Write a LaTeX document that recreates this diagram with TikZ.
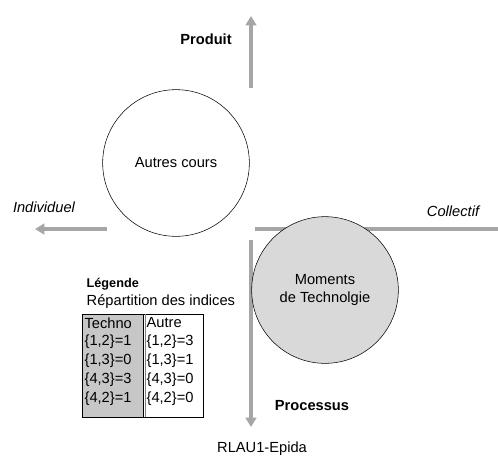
\documentclass[tikz,border=0pt]{standalone}
\usepackage{fontspec}
\setmainfont{Liberation Sans}
\usetikzlibrary{arrows.meta}
\begin{document}
\begin{tikzpicture}[x=0.75pt,y=-0.75pt,
	axe/.style={line width=3pt, draw=black!35},
	fleche/.style={axe, -{Triangle[length=7pt,width=8pt]}},
	cours/.style={circle, draw, minimum size=110pt, inner sep=0pt, align=center, font=\fontsize{11}{13}\selectfont},
	txt/.style={font=\fontsize{11}{13}\selectfont},
	titre/.style={font=\fontsize{11}{13}\selectfont\bfseries},
	pole/.style={font=\fontsize{11}{13}\selectfont\itshape}]
	\useasboundingbox (0,0) rectangle (498,457);

	\coordinate (haut0) at (251,88);
	\coordinate (haut) at (251,16);
	\coordinate (gauche0) at (107,229);
	\coordinate (gauche) at (35,229);
	\coordinate (droite0) at (255,229);
	\coordinate (droite) at (498,229);
	\coordinate (bas0) at (251,240);
	\coordinate (bas) at (251,427);

	\draw [fleche] (haut0) -- (haut);
	\draw [fleche] (gauche0) -- (gauche);
	\draw [axe] (droite0) -- (droite);
	\draw [fleche] (bas0) -- (bas);

	\node [cours] (autres) at (176,163) {Autres cours};
	\node [cours, fill=black!15] (moments) at (325,290) {Moments\\de Technolgie};

	\node [titre] (produit) at (206,39) {Produit};
	\node [titre] (processus) at (312,406) {Processus};
	\node [pole] (individuel) at (44,207) {Individuel};
	\node [pole] (collectif) at (453,211) {Collectif};
	\node [txt] (source) at (262,449) {RLAU1-Epida};

	% legende
	\node [anchor=west, font=\fontsize{9.5}{11}\selectfont\bfseries] (legende) at (82,284) {Légende};
	\node [txt, anchor=west] (repartition) at (82,302) {Répartition des indices};
	\draw [fill=black!22] (82,314) rectangle (143,417);
	\draw (143,314) rectangle (203,417);
	\draw [black!50] (145,314) -- (145,417);
	\node [txt, anchor=west, inner sep=1pt] (t0) at (83,323) {Techno};
	\node [txt, anchor=west, inner sep=1pt] (a0) at (145,323) {Autre};
	\foreach \i/\p/\v/\w in {1/{1,2}/1/3, 2/{1,3}/0/1, 3/{4,3}/3/0, 4/{4,2}/1/0} {
		\node [txt, anchor=west, inner sep=1pt] (t\i) at (83,323+19*\i) {\{\p\}=\v};
		\node [txt, anchor=west, inner sep=1pt] (a\i) at (145,323+19*\i) {\{\p\}=\w};
	}
\end{tikzpicture}
\end{document}
